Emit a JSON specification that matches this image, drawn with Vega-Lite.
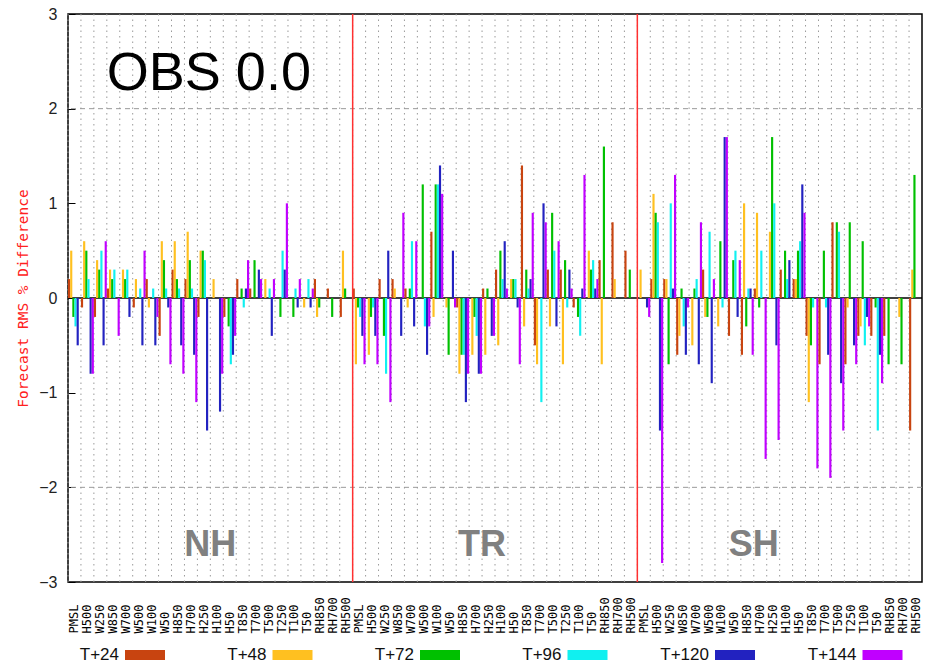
{
  "$schema": "https://vega.github.io/schema/vega-lite/v6.json",
  "width": 854,
  "height": 568,
  "autosize": {"type": "none"},
  "padding": {"left": 68, "top": 14, "right": 5, "bottom": 84},
  "background": "white",
  "config": {
    "view": {"stroke": "#000", "strokeWidth": 1.5},
    "font": "Liberation Sans"
  },
  "datasets": {
    "bars": [
      {"id":"A00 PMSL","s":"T+24","v":0.2},{"id":"A00 PMSL","s":"T+48","v":0.5},{"id":"A00 PMSL","s":"T+72","v":-0.2},{"id":"A00 PMSL","s":"T+96","v":-0.3},{"id":"A00 PMSL","s":"T+120","v":-0.5},{"id":"A00 PMSL","s":"T+144","v":0},
      {"id":"A01 H500","s":"T+24","v":-0.1},{"id":"A01 H500","s":"T+48","v":0.6},{"id":"A01 H500","s":"T+72","v":0.5},{"id":"A01 H500","s":"T+96","v":0.2},{"id":"A01 H500","s":"T+120","v":-0.8},{"id":"A01 H500","s":"T+144","v":-0.8},
      {"id":"A02 W250","s":"T+24","v":-0.2},{"id":"A02 W250","s":"T+48","v":0.4},{"id":"A02 W250","s":"T+72","v":0.3},{"id":"A02 W250","s":"T+96","v":0.5},{"id":"A02 W250","s":"T+120","v":-0.5},{"id":"A02 W250","s":"T+144","v":0.6},
      {"id":"A03 W850","s":"T+24","v":0.1},{"id":"A03 W850","s":"T+48","v":0.3},{"id":"A03 W850","s":"T+72","v":0.2},{"id":"A03 W850","s":"T+96","v":0.3},{"id":"A03 W850","s":"T+120","v":0},{"id":"A03 W850","s":"T+144","v":-0.4},
      {"id":"A04 W700","s":"T+24","v":0},{"id":"A04 W700","s":"T+48","v":0.3},{"id":"A04 W700","s":"T+72","v":0.2},{"id":"A04 W700","s":"T+96","v":0.3},{"id":"A04 W700","s":"T+120","v":-0.2},{"id":"A04 W700","s":"T+144","v":0},
      {"id":"A05 W500","s":"T+24","v":-0.1},{"id":"A05 W500","s":"T+48","v":0.2},{"id":"A05 W500","s":"T+72","v":0},{"id":"A05 W500","s":"T+96","v":0.1},{"id":"A05 W500","s":"T+120","v":-0.5},{"id":"A05 W500","s":"T+144","v":0.5},
      {"id":"A06 W100","s":"T+24","v":0.2},{"id":"A06 W100","s":"T+48","v":-0.1},{"id":"A06 W100","s":"T+72","v":0},{"id":"A06 W100","s":"T+96","v":0.1},{"id":"A06 W100","s":"T+120","v":-0.5},{"id":"A06 W100","s":"T+144","v":-0.2},
      {"id":"A07 W50","s":"T+24","v":-0.4},{"id":"A07 W50","s":"T+48","v":0.6},{"id":"A07 W50","s":"T+72","v":0.4},{"id":"A07 W50","s":"T+96","v":0.1},{"id":"A07 W50","s":"T+120","v":-0.1},{"id":"A07 W50","s":"T+144","v":-0.7},
      {"id":"A08 H850","s":"T+24","v":0.3},{"id":"A08 H850","s":"T+48","v":0.6},{"id":"A08 H850","s":"T+72","v":0.2},{"id":"A08 H850","s":"T+96","v":0.1},{"id":"A08 H850","s":"T+120","v":-0.5},{"id":"A08 H850","s":"T+144","v":-0.8},
      {"id":"A09 H700","s":"T+24","v":0.2},{"id":"A09 H700","s":"T+48","v":0.7},{"id":"A09 H700","s":"T+72","v":0.4},{"id":"A09 H700","s":"T+96","v":0.1},{"id":"A09 H700","s":"T+120","v":-0.6},{"id":"A09 H700","s":"T+144","v":-1.1},
      {"id":"A10 H250","s":"T+24","v":-0.2},{"id":"A10 H250","s":"T+48","v":0.5},{"id":"A10 H250","s":"T+72","v":0.5},{"id":"A10 H250","s":"T+96","v":0.4},{"id":"A10 H250","s":"T+120","v":-1.4},{"id":"A10 H250","s":"T+144","v":0},
      {"id":"A11 H100","s":"T+24","v":0},{"id":"A11 H100","s":"T+48","v":0.2},{"id":"A11 H100","s":"T+72","v":0},{"id":"A11 H100","s":"T+96","v":0},{"id":"A11 H100","s":"T+120","v":-1.2},{"id":"A11 H100","s":"T+144","v":-0.8},
      {"id":"A12 H50","s":"T+24","v":-0.2},{"id":"A12 H50","s":"T+48","v":0},{"id":"A12 H50","s":"T+72","v":-0.3},{"id":"A12 H50","s":"T+96","v":-0.7},{"id":"A12 H50","s":"T+120","v":-0.6},{"id":"A12 H50","s":"T+144","v":-0.4},
      {"id":"A13 T850","s":"T+24","v":0.2},{"id":"A13 T850","s":"T+48","v":0},{"id":"A13 T850","s":"T+72","v":0.1},{"id":"A13 T850","s":"T+96","v":-0.1},{"id":"A13 T850","s":"T+120","v":0.1},{"id":"A13 T850","s":"T+144","v":0.4},
      {"id":"A14 T700","s":"T+24","v":0.1},{"id":"A14 T700","s":"T+48","v":0},{"id":"A14 T700","s":"T+72","v":0.4},{"id":"A14 T700","s":"T+96","v":0},{"id":"A14 T700","s":"T+120","v":0.3},{"id":"A14 T700","s":"T+144","v":0.2},
      {"id":"A15 T500","s":"T+24","v":0},{"id":"A15 T500","s":"T+48","v":0.2},{"id":"A15 T500","s":"T+72","v":0},{"id":"A15 T500","s":"T+96","v":0.1},{"id":"A15 T500","s":"T+120","v":-0.4},{"id":"A15 T500","s":"T+144","v":0.2},
      {"id":"A16 T250","s":"T+24","v":0},{"id":"A16 T250","s":"T+48","v":0},{"id":"A16 T250","s":"T+72","v":-0.2},{"id":"A16 T250","s":"T+96","v":0.5},{"id":"A16 T250","s":"T+120","v":0.3},{"id":"A16 T250","s":"T+144","v":1.0},
      {"id":"A17 T100","s":"T+24","v":0},{"id":"A17 T100","s":"T+48","v":0},{"id":"A17 T100","s":"T+72","v":-0.2},{"id":"A17 T100","s":"T+96","v":0.1},{"id":"A17 T100","s":"T+120","v":-0.1},{"id":"A17 T100","s":"T+144","v":0.2},
      {"id":"A18 T50","s":"T+24","v":0},{"id":"A18 T50","s":"T+48","v":-0.1},{"id":"A18 T50","s":"T+72","v":0},{"id":"A18 T50","s":"T+96","v":0.2},{"id":"A18 T50","s":"T+120","v":-0.1},{"id":"A18 T50","s":"T+144","v":0.1},
      {"id":"A19 RH850","s":"T+24","v":0.2},{"id":"A19 RH850","s":"T+48","v":-0.2},{"id":"A19 RH850","s":"T+72","v":-0.1},{"id":"A19 RH850","s":"T+96","v":0},{"id":"A19 RH850","s":"T+120","v":0},{"id":"A19 RH850","s":"T+144","v":0},
      {"id":"A20 RH700","s":"T+24","v":0.1},{"id":"A20 RH700","s":"T+48","v":0},{"id":"A20 RH700","s":"T+72","v":-0.2},{"id":"A20 RH700","s":"T+96","v":0},{"id":"A20 RH700","s":"T+120","v":0},{"id":"A20 RH700","s":"T+144","v":0},
      {"id":"A21 RH500","s":"T+24","v":-0.2},{"id":"A21 RH500","s":"T+48","v":0.5},{"id":"A21 RH500","s":"T+72","v":0.1},{"id":"A21 RH500","s":"T+96","v":0},{"id":"A21 RH500","s":"T+120","v":0},{"id":"A21 RH500","s":"T+144","v":0},
      {"id":"B00 PMSL","s":"T+24","v":0.1},{"id":"B00 PMSL","s":"T+48","v":-0.7},{"id":"B00 PMSL","s":"T+72","v":-0.1},{"id":"B00 PMSL","s":"T+96","v":-0.2},{"id":"B00 PMSL","s":"T+120","v":-0.4},{"id":"B00 PMSL","s":"T+144","v":-0.7},
      {"id":"B01 H500","s":"T+24","v":0},{"id":"B01 H500","s":"T+48","v":-0.6},{"id":"B01 H500","s":"T+72","v":-0.2},{"id":"B01 H500","s":"T+96","v":-0.1},{"id":"B01 H500","s":"T+120","v":-0.4},{"id":"B01 H500","s":"T+144","v":-0.7},
      {"id":"B02 W250","s":"T+24","v":0.2},{"id":"B02 W250","s":"T+48","v":0},{"id":"B02 W250","s":"T+72","v":-0.4},{"id":"B02 W250","s":"T+96","v":-0.8},{"id":"B02 W250","s":"T+120","v":0.5},{"id":"B02 W250","s":"T+144","v":-1.1},
      {"id":"B03 W850","s":"T+24","v":0.2},{"id":"B03 W850","s":"T+48","v":0.1},{"id":"B03 W850","s":"T+72","v":0},{"id":"B03 W850","s":"T+96","v":0},{"id":"B03 W850","s":"T+120","v":-0.4},{"id":"B03 W850","s":"T+144","v":0.9},
      {"id":"B04 W700","s":"T+24","v":0.1},{"id":"B04 W700","s":"T+48","v":-0.1},{"id":"B04 W700","s":"T+72","v":0.1},{"id":"B04 W700","s":"T+96","v":0.6},{"id":"B04 W700","s":"T+120","v":-0.3},{"id":"B04 W700","s":"T+144","v":0.6},
      {"id":"B05 W500","s":"T+24","v":0},{"id":"B05 W500","s":"T+48","v":0},{"id":"B05 W500","s":"T+72","v":1.2},{"id":"B05 W500","s":"T+96","v":-0.3},{"id":"B05 W500","s":"T+120","v":-0.6},{"id":"B05 W500","s":"T+144","v":-0.3},
      {"id":"B06 W100","s":"T+24","v":0.7},{"id":"B06 W100","s":"T+48","v":-0.2},{"id":"B06 W100","s":"T+72","v":1.2},{"id":"B06 W100","s":"T+96","v":1.2},{"id":"B06 W100","s":"T+120","v":1.4},{"id":"B06 W100","s":"T+144","v":1.1},
      {"id":"B07 W50","s":"T+24","v":0},{"id":"B07 W50","s":"T+48","v":-0.1},{"id":"B07 W50","s":"T+72","v":-0.6},{"id":"B07 W50","s":"T+96","v":0},{"id":"B07 W50","s":"T+120","v":0.5},{"id":"B07 W50","s":"T+144","v":-0.1},
      {"id":"B08 H850","s":"T+24","v":-0.1},{"id":"B08 H850","s":"T+48","v":-0.8},{"id":"B08 H850","s":"T+72","v":-0.6},{"id":"B08 H850","s":"T+96","v":-0.6},{"id":"B08 H850","s":"T+120","v":-1.1},{"id":"B08 H850","s":"T+144","v":-0.8},
      {"id":"B09 H700","s":"T+24","v":0},{"id":"B09 H700","s":"T+48","v":-0.6},{"id":"B09 H700","s":"T+72","v":-0.2},{"id":"B09 H700","s":"T+96","v":-0.4},{"id":"B09 H700","s":"T+120","v":-0.8},{"id":"B09 H700","s":"T+144","v":-0.8},
      {"id":"B10 H250","s":"T+24","v":0.1},{"id":"B10 H250","s":"T+48","v":-0.6},{"id":"B10 H250","s":"T+72","v":0.1},{"id":"B10 H250","s":"T+96","v":0},{"id":"B10 H250","s":"T+120","v":-0.4},{"id":"B10 H250","s":"T+144","v":-0.4},
      {"id":"B11 H100","s":"T+24","v":0.3},{"id":"B11 H100","s":"T+48","v":-0.5},{"id":"B11 H100","s":"T+72","v":0.5},{"id":"B11 H100","s":"T+96","v":0.2},{"id":"B11 H100","s":"T+120","v":0.6},{"id":"B11 H100","s":"T+144","v":0.1},
      {"id":"B12 H50","s":"T+24","v":0},{"id":"B12 H50","s":"T+48","v":0.2},{"id":"B12 H50","s":"T+72","v":0.2},{"id":"B12 H50","s":"T+96","v":0.2},{"id":"B12 H50","s":"T+120","v":-0.1},{"id":"B12 H50","s":"T+144","v":-0.7},
      {"id":"B13 T850","s":"T+24","v":1.4},{"id":"B13 T850","s":"T+48","v":-0.3},{"id":"B13 T850","s":"T+72","v":0.3},{"id":"B13 T850","s":"T+96","v":0.1},{"id":"B13 T850","s":"T+120","v":0.2},{"id":"B13 T850","s":"T+144","v":0.9},
      {"id":"B14 T700","s":"T+24","v":-0.5},{"id":"B14 T700","s":"T+48","v":-0.7},{"id":"B14 T700","s":"T+72","v":0},{"id":"B14 T700","s":"T+96","v":-1.1},{"id":"B14 T700","s":"T+120","v":1.0},{"id":"B14 T700","s":"T+144","v":0.8},
      {"id":"B15 T500","s":"T+24","v":0.3},{"id":"B15 T500","s":"T+48","v":-0.3},{"id":"B15 T500","s":"T+72","v":0.9},{"id":"B15 T500","s":"T+96","v":0.5},{"id":"B15 T500","s":"T+120","v":-0.3},{"id":"B15 T500","s":"T+144","v":0.6},
      {"id":"B16 T250","s":"T+24","v":0.3},{"id":"B16 T250","s":"T+48","v":-0.7},{"id":"B16 T250","s":"T+72","v":0.4},{"id":"B16 T250","s":"T+96","v":-0.1},{"id":"B16 T250","s":"T+120","v":0.3},{"id":"B16 T250","s":"T+144","v":0.1},
      {"id":"B17 T100","s":"T+24","v":-0.1},{"id":"B17 T100","s":"T+48","v":0},{"id":"B17 T100","s":"T+72","v":-0.2},{"id":"B17 T100","s":"T+96","v":-0.4},{"id":"B17 T100","s":"T+120","v":0.1},{"id":"B17 T100","s":"T+144","v":1.3},
      {"id":"B18 T50","s":"T+24","v":0},{"id":"B18 T50","s":"T+48","v":0.5},{"id":"B18 T50","s":"T+72","v":0.3},{"id":"B18 T50","s":"T+96","v":0.4},{"id":"B18 T50","s":"T+120","v":0.1},{"id":"B18 T50","s":"T+144","v":0.2},
      {"id":"B19 RH850","s":"T+24","v":0.4},{"id":"B19 RH850","s":"T+48","v":-0.7},{"id":"B19 RH850","s":"T+72","v":1.6},{"id":"B19 RH850","s":"T+96","v":0},{"id":"B19 RH850","s":"T+120","v":0},{"id":"B19 RH850","s":"T+144","v":0},
      {"id":"B20 RH700","s":"T+24","v":0.8},{"id":"B20 RH700","s":"T+48","v":0.2},{"id":"B20 RH700","s":"T+72","v":0},{"id":"B20 RH700","s":"T+96","v":0},{"id":"B20 RH700","s":"T+120","v":0},{"id":"B20 RH700","s":"T+144","v":0},
      {"id":"B21 RH500","s":"T+24","v":0.5},{"id":"B21 RH500","s":"T+48","v":0},{"id":"B21 RH500","s":"T+72","v":0.3},{"id":"B21 RH500","s":"T+96","v":0},{"id":"B21 RH500","s":"T+120","v":0},{"id":"B21 RH500","s":"T+144","v":0},
      {"id":"C00 PMSL","s":"T+24","v":0},{"id":"C00 PMSL","s":"T+48","v":0.3},{"id":"C00 PMSL","s":"T+72","v":0},{"id":"C00 PMSL","s":"T+96","v":0},{"id":"C00 PMSL","s":"T+120","v":-0.1},{"id":"C00 PMSL","s":"T+144","v":-0.2},
      {"id":"C01 H500","s":"T+24","v":0.2},{"id":"C01 H500","s":"T+48","v":1.1},{"id":"C01 H500","s":"T+72","v":0.9},{"id":"C01 H500","s":"T+96","v":0.8},{"id":"C01 H500","s":"T+120","v":-1.4},{"id":"C01 H500","s":"T+144","v":-2.8},
      {"id":"C02 W250","s":"T+24","v":0.2},{"id":"C02 W250","s":"T+48","v":0.2},{"id":"C02 W250","s":"T+72","v":-0.7},{"id":"C02 W250","s":"T+96","v":1.0},{"id":"C02 W250","s":"T+120","v":0.1},{"id":"C02 W250","s":"T+144","v":1.3},
      {"id":"C03 W850","s":"T+24","v":-0.6},{"id":"C03 W850","s":"T+48","v":-0.4},{"id":"C03 W850","s":"T+72","v":0.1},{"id":"C03 W850","s":"T+96","v":-0.3},{"id":"C03 W850","s":"T+120","v":-0.6},{"id":"C03 W850","s":"T+144","v":-0.1},
      {"id":"C04 W700","s":"T+24","v":0},{"id":"C04 W700","s":"T+48","v":-0.5},{"id":"C04 W700","s":"T+72","v":0.1},{"id":"C04 W700","s":"T+96","v":0.2},{"id":"C04 W700","s":"T+120","v":-0.7},{"id":"C04 W700","s":"T+144","v":0.8},
      {"id":"C05 W500","s":"T+24","v":0.3},{"id":"C05 W500","s":"T+48","v":-0.2},{"id":"C05 W500","s":"T+72","v":-0.2},{"id":"C05 W500","s":"T+96","v":0.7},{"id":"C05 W500","s":"T+120","v":-0.9},{"id":"C05 W500","s":"T+144","v":0.2},
      {"id":"C06 W100","s":"T+24","v":0},{"id":"C06 W100","s":"T+48","v":-0.3},{"id":"C06 W100","s":"T+72","v":0.6},{"id":"C06 W100","s":"T+96","v":-0.1},{"id":"C06 W100","s":"T+120","v":1.7},{"id":"C06 W100","s":"T+144","v":1.7},
      {"id":"C07 W50","s":"T+24","v":-0.4},{"id":"C07 W50","s":"T+48","v":0},{"id":"C07 W50","s":"T+72","v":0.4},{"id":"C07 W50","s":"T+96","v":0.5},{"id":"C07 W50","s":"T+120","v":-0.2},{"id":"C07 W50","s":"T+144","v":0.4},
      {"id":"C08 H850","s":"T+24","v":-0.6},{"id":"C08 H850","s":"T+48","v":1.0},{"id":"C08 H850","s":"T+72","v":-0.3},{"id":"C08 H850","s":"T+96","v":0.1},{"id":"C08 H850","s":"T+120","v":0.1},{"id":"C08 H850","s":"T+144","v":-0.6},
      {"id":"C09 H700","s":"T+24","v":0.1},{"id":"C09 H700","s":"T+48","v":0.9},{"id":"C09 H700","s":"T+72","v":-0.1},{"id":"C09 H700","s":"T+96","v":0.5},{"id":"C09 H700","s":"T+120","v":0},{"id":"C09 H700","s":"T+144","v":-1.7},
      {"id":"C10 H250","s":"T+24","v":0},{"id":"C10 H250","s":"T+48","v":0.7},{"id":"C10 H250","s":"T+72","v":1.7},{"id":"C10 H250","s":"T+96","v":1.0},{"id":"C10 H250","s":"T+120","v":-0.5},{"id":"C10 H250","s":"T+144","v":-1.5},
      {"id":"C11 H100","s":"T+24","v":0.3},{"id":"C11 H100","s":"T+48","v":0},{"id":"C11 H100","s":"T+72","v":0.5},{"id":"C11 H100","s":"T+96","v":0.2},{"id":"C11 H100","s":"T+120","v":0.4},{"id":"C11 H100","s":"T+144","v":0},
      {"id":"C12 H50","s":"T+24","v":0.2},{"id":"C12 H50","s":"T+48","v":0.2},{"id":"C12 H50","s":"T+72","v":0.5},{"id":"C12 H50","s":"T+96","v":0.6},{"id":"C12 H50","s":"T+120","v":1.2},{"id":"C12 H50","s":"T+144","v":0.9},
      {"id":"C13 T850","s":"T+24","v":-0.4},{"id":"C13 T850","s":"T+48","v":-1.1},{"id":"C13 T850","s":"T+72","v":-0.5},{"id":"C13 T850","s":"T+96","v":-0.1},{"id":"C13 T850","s":"T+120","v":0},{"id":"C13 T850","s":"T+144","v":-1.8},
      {"id":"C14 T700","s":"T+24","v":-0.7},{"id":"C14 T700","s":"T+48","v":0},{"id":"C14 T700","s":"T+72","v":0.5},{"id":"C14 T700","s":"T+96","v":-0.1},{"id":"C14 T700","s":"T+120","v":-0.6},{"id":"C14 T700","s":"T+144","v":-1.9},
      {"id":"C15 T500","s":"T+24","v":0.8},{"id":"C15 T500","s":"T+48","v":0},{"id":"C15 T500","s":"T+72","v":0.8},{"id":"C15 T500","s":"T+96","v":0.7},{"id":"C15 T500","s":"T+120","v":-0.9},{"id":"C15 T500","s":"T+144","v":-1.4},
      {"id":"C16 T250","s":"T+24","v":-0.7},{"id":"C16 T250","s":"T+48","v":-0.1},{"id":"C16 T250","s":"T+72","v":0.8},{"id":"C16 T250","s":"T+96","v":0},{"id":"C16 T250","s":"T+120","v":-0.5},{"id":"C16 T250","s":"T+144","v":-0.7},
      {"id":"C17 T100","s":"T+24","v":-0.4},{"id":"C17 T100","s":"T+48","v":-0.3},{"id":"C17 T100","s":"T+72","v":0.6},{"id":"C17 T100","s":"T+96","v":-0.5},{"id":"C17 T100","s":"T+120","v":-0.2},{"id":"C17 T100","s":"T+144","v":-0.3},
      {"id":"C18 T50","s":"T+24","v":-0.4},{"id":"C18 T50","s":"T+48","v":0},{"id":"C18 T50","s":"T+72","v":-0.1},{"id":"C18 T50","s":"T+96","v":-1.4},{"id":"C18 T50","s":"T+120","v":-0.6},{"id":"C18 T50","s":"T+144","v":-0.9},
      {"id":"C19 RH850","s":"T+24","v":-0.4},{"id":"C19 RH850","s":"T+48","v":0},{"id":"C19 RH850","s":"T+72","v":-0.7},{"id":"C19 RH850","s":"T+96","v":0},{"id":"C19 RH850","s":"T+120","v":0},{"id":"C19 RH850","s":"T+144","v":0},
      {"id":"C20 RH700","s":"T+24","v":0},{"id":"C20 RH700","s":"T+48","v":-0.2},{"id":"C20 RH700","s":"T+72","v":-0.7},{"id":"C20 RH700","s":"T+96","v":0},{"id":"C20 RH700","s":"T+120","v":0},{"id":"C20 RH700","s":"T+144","v":0},
      {"id":"C21 RH500","s":"T+24","v":-1.4},{"id":"C21 RH500","s":"T+48","v":0.3},{"id":"C21 RH500","s":"T+72","v":1.3},{"id":"C21 RH500","s":"T+96","v":0},{"id":"C21 RH500","s":"T+120","v":0},{"id":"C21 RH500","s":"T+144","v":0}
    ],
    "regions": [
      {"id": "A11 H100", "t": "NH"},
      {"id": "B10 H250", "t": "TR"},
      {"id": "C09 H700", "t": "SH"}
    ],
    "title": [
      {"id": "A03 W850", "t": "OBS 0.0"}
    ]
  },
  "layer": [
    {
      "data": {"name": "bars"},
      "transform": [{"filter": "datum.s == 'T+24'"}],
      "mark": {"type": "rule", "color": "#9a9a9a", "strokeWidth": 1, "strokeDash": [1.5, 4]},
      "encoding": {
        "x": {"field": "id", "type": "nominal", "title": null, "bandPosition": 0}
      }
    },
    {
      "data": {"values": [{}]},
      "mark": {"type": "rule", "color": "#9a9a9a", "strokeWidth": 1, "strokeDash": [5, 4]},
      "encoding": {"y": {"datum": 2}}
    },
    {
      "data": {"values": [{}]},
      "mark": {"type": "rule", "color": "#9a9a9a", "strokeWidth": 1, "strokeDash": [5, 4]},
      "encoding": {"y": {"datum": -2}}
    },
    {
      "data": {"values": [{}]},
      "mark": {"type": "rule", "color": "#000", "strokeWidth": 1.5},
      "encoding": {"y": {"datum": 0}}
    },
    {
      "data": {"name": "bars"},
      "mark": {"type": "bar"},
      "encoding": {
        "x": {
          "field": "id", "type": "nominal", "title": null, "sort": "ascending",
          "scale": {"paddingInner": 0, "paddingOuter": 0},
          "axis": {
            "labelExpr": "slice(datum.value, 4)",
            "labelAngle": 270, "labelAlign": "left", "labelBaseline": "middle",
            "labelPadding": 51, "labelFont": "DejaVu Sans Mono", "labelFontSize": 12,
            "labelColor": "#000", "labelOverlap": false, "labelBound": false,
            "ticks": false, "domain": false, "grid": false
          }
        },
        "xOffset": {
          "field": "s", "type": "nominal",
          "scale": {"domain": ["T+24", "T+48", "T+72", "T+96", "T+120", "T+144"], "paddingInner": 0, "paddingOuter": 0}
        },
        "y": {
          "field": "v", "type": "quantitative",
          "title": "Forecast RMS % Difference",
          "scale": {"domain": [-3, 3], "nice": false, "zero": false},
          "axis": {
            "values": [-3, -2, -1, 0, 1, 2, 3], "format": "d",
            "grid": false, "domain": false,
            "tickSize": -7, "tickColor": "#000", "tickWidth": 1,
            "labelPadding": 18, "labelFont": "Liberation Sans", "labelFontSize": 16, "labelColor": "#222",
            "titleColor": "#ff2020", "titleFont": "DejaVu Sans Mono", "titleFontSize": 14.5,
            "titleFontWeight": "normal", "titlePadding": 8
          }
        },
        "color": {
          "field": "s", "type": "nominal",
          "scale": {
            "domain": ["T+24", "T+48", "T+72", "T+96", "T+120", "T+144"],
            "range": ["#c84410", "#ffc020", "#00c000", "#10f0f0", "#2222c0", "#c000ff"]
          },
          "legend": {
            "orient": "none", "legendX": 57, "legendY": 621,
            "direction": "horizontal", "columns": 6, "title": null,
            "symbolType": "M-1,-0.25H1V0.25H-1Z", "symbolSize": 1600,
            "symbolStrokeWidth": 0, "symbolOpacity": 1,
            "labelAlign": "right", "labelOffset": -46,
            "labelFont": "Liberation Sans", "labelFontSize": 17, "labelColor": "#111",
            "gridAlign": "all", "columnPadding": 52.5
          }
        }
      }
    },
    {
      "data": {"name": "bars"},
      "transform": [{"filter": "datum.s == 'T+24' && (datum.id == 'B00 PMSL' || datum.id == 'C00 PMSL')"}],
      "mark": {"type": "rule", "color": "#ff3030", "strokeWidth": 1.5},
      "encoding": {
        "x": {"field": "id", "type": "nominal", "title": null, "bandPosition": 0}
      }
    },
    {
      "data": {"name": "title"},
      "mark": {"type": "text", "align": "left", "baseline": "alphabetic", "font": "Liberation Sans", "fontSize": 54, "color": "#000"},
      "encoding": {
        "x": {"field": "id", "type": "nominal", "title": null, "bandPosition": 0},
        "y": {"datum": 2.2},
        "text": {"field": "t"}
      }
    },
    {
      "data": {"name": "regions"},
      "mark": {"type": "text", "align": "center", "baseline": "alphabetic", "font": "Liberation Sans", "fontSize": 36, "fontWeight": "bold", "color": "#808080"},
      "encoding": {
        "x": {"field": "id", "type": "nominal", "title": null, "bandPosition": 0},
        "y": {"datum": -2.73},
        "text": {"field": "t"}
      }
    }
  ]
}
